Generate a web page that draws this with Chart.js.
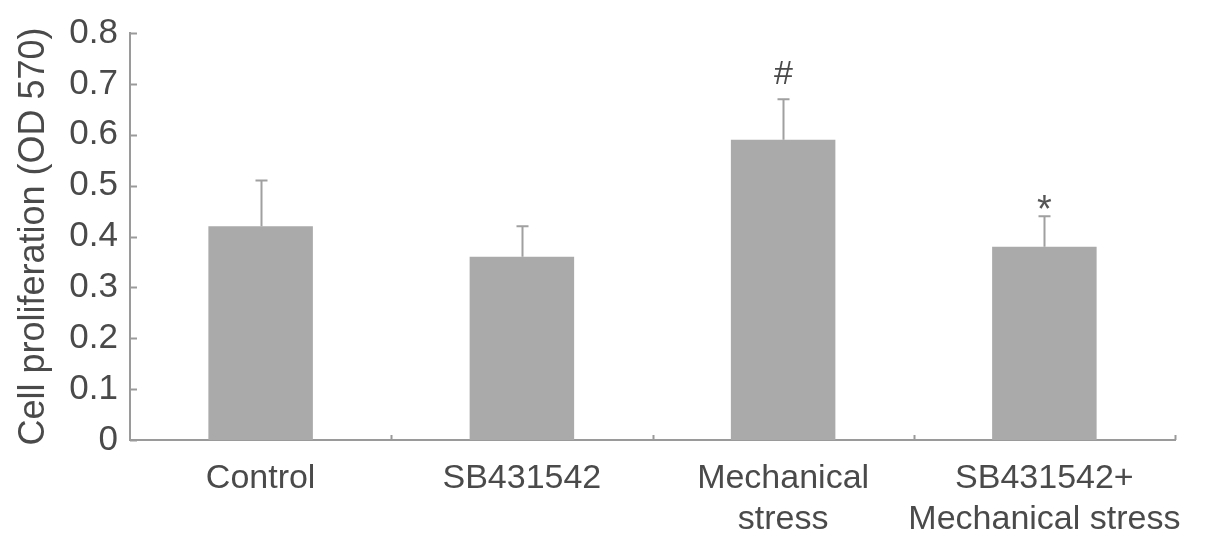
<!DOCTYPE html>
<html>
<head>
<meta charset="utf-8">
<script src="https://cdn.jsdelivr.net/npm/chart.js@4"></script>
<style>
  html, body { margin: 0; padding: 0; background: #fff; }
  #wrap { width: 1205px; height: 550px; }
</style>
</head>
<body>
<div id="wrap"><canvas id="myChart"></canvas></div>
<script>
// data
const groups = [["Control"], ["SB431542"], ["Mechanical", "stress"], ["SB431542+", "Mechanical stress"]];
const means = [0.42, 0.36, 0.59, 0.38];
const errors = [0.09, 0.06, 0.08, 0.06];
const marks = ["", "", "#", "*"];
const yTicks = [0, 0.1, 0.2, 0.3, 0.4, 0.5, 0.6, 0.7, 0.8];

const textColor = '#4a4a4a';
const axisColor = '#9a9a9a';
const fontFam = '"Liberation Sans", Arial, sans-serif';

// error bars, significance marks and inward tick marks
const extras = {
  id: 'extras',
  afterDatasetsDraw(chart) {
    const ctx = chart.ctx;
    const x = chart.scales.x;
    const y = chart.scales.y;
    const area = chart.chartArea;
    ctx.save();
    ctx.strokeStyle = axisColor;
    ctx.lineWidth = 2;
    // y ticks pointing into the plot
    yTicks.forEach(v => {
      const py = Math.round(y.getPixelForValue(v)) + 0.5;
      ctx.beginPath();
      ctx.moveTo(area.left, py);
      ctx.lineTo(area.left + 7, py);
      ctx.stroke();
    });
    // x ticks at the category borders
    for (let i = 0; i < groups.length; i++) {
      let px;
      if (i < groups.length - 1) px = (x.getPixelForValue(i) + x.getPixelForValue(i + 1)) / 2;
      else px = area.right;
      px = Math.round(px) + 0.5;
      ctx.beginPath();
      ctx.moveTo(px, area.bottom);
      ctx.lineTo(px, area.bottom - 5);
      ctx.stroke();
    }
    // error bars
    ctx.strokeStyle = '#a0a0a0';
    means.forEach((m, i) => {
      const px = Math.round(x.getPixelForValue(i)) + 0.5;
      const top = y.getPixelForValue(m + errors[i]);
      const base = y.getPixelForValue(m);
      ctx.beginPath();
      ctx.moveTo(px, base);
      ctx.lineTo(px, top);
      ctx.moveTo(px - 6, top);
      ctx.lineTo(px + 6, top);
      ctx.stroke();
      if (marks[i] === '#') {
        ctx.fillStyle = '#4a4a4a';
        ctx.font = '34px ' + fontFam;
        ctx.textAlign = 'center';
        ctx.textBaseline = 'bottom';
        ctx.fillText('#', px, top - 8);
      } else if (marks[i] === '*') {
        ctx.fillStyle = '#555';
        ctx.font = '38px ' + fontFam;
        ctx.textAlign = 'center';
        ctx.textBaseline = 'bottom';
        ctx.fillText('*', px, top + 14);
      }
    });
    ctx.restore();
  }
};

const ctx = document.getElementById("myChart").getContext('2d');
const myChart = new Chart(ctx, {
  type: 'bar',
  data: {
    labels: groups,
    datasets: [{
      data: means,
      backgroundColor: '#aaaaaa',
      borderWidth: 0,
      categoryPercentage: 1,
      barPercentage: 0.4
    }]
  },
  options: {
    responsive: true,
    maintainAspectRatio: false,
    animation: false,
    layout: { padding: { top: 29, right: 30, left: 0, bottom: 0 } },
    plugins: { legend: { display: false }, tooltip: { enabled: false } },
    scales: {
      x: {
        grid: { display: false, drawTicks: false },
        border: { display: true, color: axisColor, width: 2 },
        ticks: {
          color: textColor,
          font: { family: fontFam, size: 34 },
          padding: 18,
          maxRotation: 0,
          autoSkip: false
        },
        afterFit(scale) { scale.height = 110; }
      },
      y: {
        min: 0,
        max: 0.8,
        afterBuildTicks(scale) { scale.ticks = yTicks.map(v => ({ value: v })); },
        grid: { display: false, drawTicks: false },
        border: { display: true, color: axisColor, width: 2 },
        ticks: {
          color: textColor,
          font: { family: fontFam, size: 35 },
          padding: 12,
          callback: v => v === 0 ? '0' : v.toFixed(1)
        },
        title: {
          display: true,
          text: 'Cell proliferation (OD 570)',
          color: textColor,
          font: { family: fontFam, size: 36 },
          padding: { top: 12, bottom: 4 }
        },
        afterFit(scale) { scale.width = 130; }
      }
    }
  },
  plugins: [extras]
});
</script>
</body>
</html>
